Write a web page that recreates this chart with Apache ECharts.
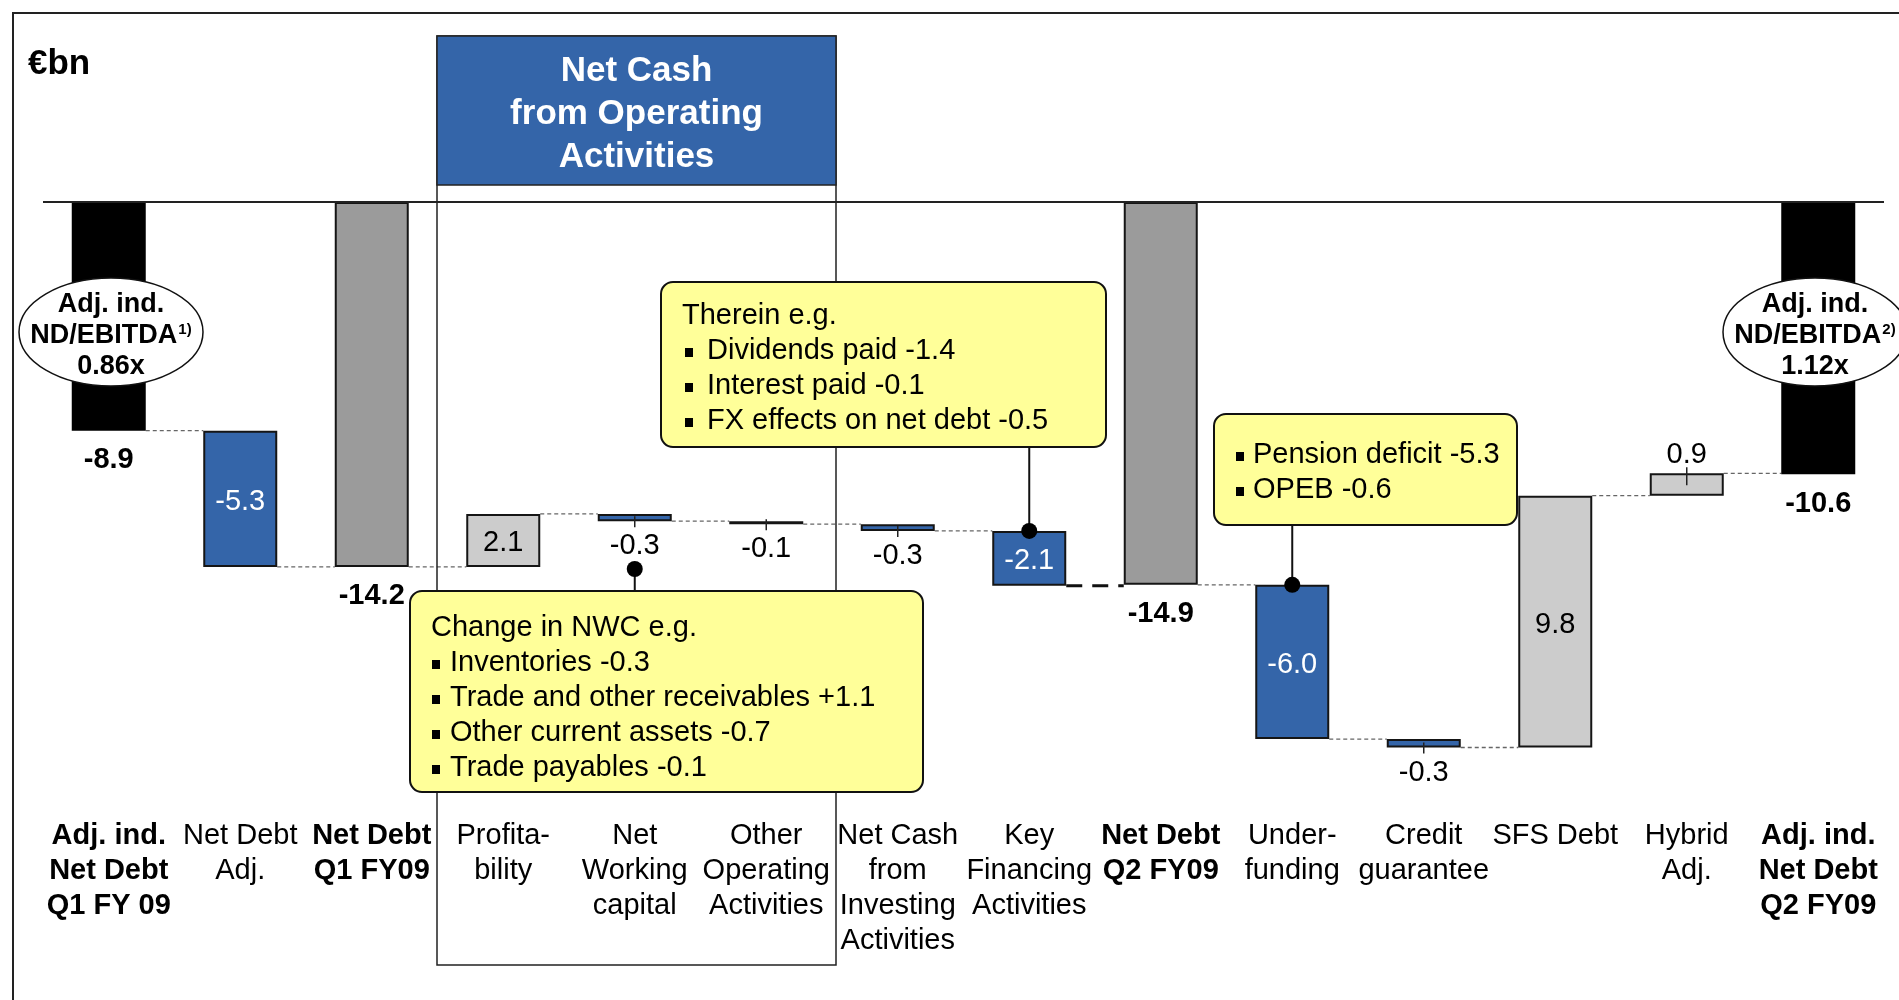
<!DOCTYPE html>
<html>
<head>
<meta charset="utf-8">
<script src="https://cdn.jsdelivr.net/npm/echarts@6/dist/echarts.min.js"></script>
<style>
  html, body { margin: 0; padding: 0; background: #fff; }
  #chart { width: 1899px; height: 1000px; }
</style>
</head>
<body>
<div id="chart"></div>
<script>
// bridge categories, kind of bar and value (EUR bn)
const categories = [
  'Adj. ind.\nNet Debt\nQ1 FY 09', 'Net Debt\nAdj.', 'Net Debt\nQ1 FY09', 'Profita-\nbility',
  'Net\nWorking\ncapital', 'Other\nOperating\nActivities', 'Net Cash\nfrom\nInvesting\nActivities',
  'Key\nFinancing\nActivities', 'Net Debt\nQ2 FY09', 'Under-\nfunding', 'Credit\nguarantee',
  'SFS Debt', 'Hybrid\nAdj.', 'Adj. ind.\nNet Debt\nQ2 FY09'
];
const kinds = ['adj', 'delta', 'total', 'delta', 'delta', 'delta', 'delta', 'delta', 'total', 'delta', 'delta', 'delta', 'delta', 'adj'];
const values = [-8.9, -5.3, -14.2, 2.06, -0.28, -0.12, -0.26, -2.13, -14.9, -6.0, -0.33, 9.8, 0.87, -10.6];

const ratioLeft = ['Adj. ind.', 'ND/EBITDA', '1)', '0.86x'];
const ratioRight = ['Adj. ind.', 'ND/EBITDA', '2)', '1.12x'];
const nwcNotes = ['Change in NWC e.g.', 'Inventories -0.3', 'Trade and other receivables +1.1', 'Other current assets -0.7', 'Trade payables -0.1'];
const financingNotes = ['Therein e.g.', 'Dividends paid -1.4', 'Interest paid -0.1', 'FX effects on net debt -0.5'];
const pensionNotes = ['Pension deficit -5.3', 'OPEB -0.6'];

const FONT = '"Liberation Sans", Arial, Helvetica, sans-serif';
const BLUE = '#3465a9';
const DARK_GRAY = '#9b9b9b';
const LIGHT_GRAY = '#cccccc';
const YELLOW = '#ffff99';
const BAR_W = 74;

// waterfall: transparent base + visible span
let level = 0;
const base = [];
const span = [];
const ends = [];
const tops = [];
values.forEach(function (v, i) {
  if (kinds[i] !== 'delta') {
    base.push(0);
    span.push(v);
    tops.push(0);
    level = v;
  } else {
    const next = level + v;
    const top = Math.max(level, next);
    const bottom = Math.min(level, next);
    base.push(top);
    span.push(bottom - top);
    tops.push(top);
    level = next;
  }
  ends.push(level);
});

function isThin(i) {
  return kinds[i] === 'delta' && Math.abs(values[i]) < 1;
}

const barData = values.map(function (v, i) {
  const k = kinds[i];
  let color;
  let borderWidth = 2;
  if (k === 'adj') {
    color = '#000';
    borderWidth = 0;
  } else if (k === 'total') {
    color = DARK_GRAY;
  } else {
    color = v < 0 ? BLUE : LIGHT_GRAY;
  }
  let label;
  if (k !== 'delta') {
    label = {position: 'bottom', distance: 15, fontWeight: 'bold', color: '#000'};
  } else if (isThin(i)) {
    // thin bar: label drawn outside by the 'small labels' series
    label = {show: false};
  } else {
    label = {position: 'inside', offset: [0, 3], color: v < 0 ? '#fff' : '#000'};
  }
  return {value: span[i], itemStyle: {color: color, borderColor: '#151515', borderWidth: borderWidth}, label: label};
});

// dashed connectors between neighbouring bars
const connectorData = [];
for (let i = 0; i < values.length - 1; i++) {
  connectorData.push([i, ends[i]]);
}

// thin bars: leader tick + value outside
const smallData = [];
values.forEach(function (v, i) {
  if (isThin(i)) {
    const edge = v < 0 ? tops[i] + span[i] : tops[i];
    smallData.push([i, edge, v < 0 ? 1 : -1, v]);
  }
});

const chart = echarts.init(document.getElementById('chart'));

const option = {
  backgroundColor: '#fff',
  animation: false,
  textStyle: {fontFamily: FONT},
  grid: {left: 43, right: 15, top: 202, bottom: 207},
  xAxis: {
    type: 'category',
    data: categories,
    axisLine: {show: false},
    axisTick: {show: false},
    splitLine: {show: false},
    axisLabel: {
      interval: 0,
      margin: 25,
      formatter: function (value, idx) {
        const tag = kinds[idx] === 'delta' ? 'n' : 'b';
        return value.split('\n').map(function (l) { return '{' + tag + '|' + l + '}'; }).join('\n');
      },
      rich: {
        n: {fontSize: 29, lineHeight: 35, color: '#000', fontFamily: FONT, align: 'center'},
        b: {fontSize: 29, lineHeight: 35, color: '#000', fontFamily: FONT, fontWeight: 'bold', align: 'center'}
      }
    }
  },
  yAxis: {
    type: 'value',
    min: -23,
    max: 0,
    show: false,
    splitLine: {show: false}
  },
  series: [
    {
      name: 'base',
      type: 'bar',
      stack: 'wf',
      barWidth: BAR_W,
      silent: true,
      itemStyle: {color: 'transparent'},
      data: base,
      markLine: {
        silent: true,
        symbol: 'none',
        label: {show: false},
        lineStyle: {color: '#222', width: 2, type: 'solid'},
        data: [{yAxis: 0}]
      }
    },
    {
      name: 'Net debt',
      type: 'bar',
      stack: 'wf',
      barWidth: BAR_W,
      label: {
        show: true,
        fontSize: 29,
        fontFamily: FONT,
        formatter: function (p) {
          return values[p.dataIndex].toFixed(1);
        }
      },
      data: barData
    },
    {
      name: 'connectors',
      type: 'custom',
      silent: true,
      encode: {x: 0, y: 1},
      renderItem: function (params, api) {
        const i = api.value(0);
        const lv = api.value(1);
        const a = api.coord([i, lv]);
        const b = api.coord([i + 1, lv]);
        const heavy = i === 7;
        return {
          type: 'line',
          shape: {x1: a[0] + BAR_W / 2, y1: a[1], x2: b[0] - BAR_W / 2, y2: a[1]},
          style: heavy
            ? {stroke: '#111', lineWidth: 3, lineDash: [16, 10]}
            : {stroke: '#666', lineWidth: 1.3, lineDash: [4, 3]}
        };
      },
      data: connectorData,
      z: 1
    },
    {
      name: 'small labels',
      type: 'custom',
      silent: true,
      encode: {x: 0, y: 1},
      renderItem: function (params, api) {
        const p = api.coord([api.value(0), api.value(1)]);
        const dir = api.value(2);
        const v = api.value(3);
        return {
          type: 'group',
          children: [
            {
              type: 'line',
              shape: {x1: p[0], y1: p[1] - dir * (dir > 0 ? 5 : 12), x2: p[0], y2: p[1] + dir * 6},
              style: {stroke: '#222', lineWidth: 1.5}
            },
            {
              type: 'text',
              x: p[0],
              y: p[1] + (dir > 0 ? 25 : -18),
              style: {text: v.toFixed(1), fontSize: 29, fontFamily: FONT, fill: '#000', align: 'center', verticalAlign: 'middle'}
            }
          ]
        };
      },
      data: smallData,
      z: 5
    }
  ]
};

chart.setOption(option);

// annotations
function px(i, v) {
  return chart.convertToPixel({xAxisIndex: 0, yAxisIndex: 0}, [i, v]);
}

function ratioEllipse(cx, cy, t) {
  return [
    {type: 'ellipse', z: 60, shape: {cx: cx, cy: cy, rx: 92, ry: 54}, style: {fill: '#fff', stroke: '#111', lineWidth: 1.5}},
    {
      type: 'text',
      z: 61,
      x: cx,
      y: cy + 4,
      style: {
        text: '{b|' + t[0] + '}\n{b|' + t[1] + '}{s|' + t[2] + '}\n{b|' + t[3] + '}',
        align: 'center',
        verticalAlign: 'middle',
        rich: {
          b: {fontSize: 27, fontWeight: 'bold', lineHeight: 31, fontFamily: FONT, fill: '#000'},
          s: {fontSize: 15, fontWeight: 'bold', lineHeight: 31, fontFamily: FONT, fill: '#000', verticalAlign: 'top', padding: [2, 0, 0, 1]}
        }
      }
    }
  ];
}

function callout(x, y, w, h, lines, textX, bulletX, bulletTextX, firstY, hasHeading) {
  const els = [
    {type: 'rect', z: 50, shape: {x: x, y: y, width: w, height: h, r: 12}, style: {fill: YELLOW, stroke: '#111', lineWidth: 2}}
  ];
  lines.forEach(function (l, k) {
    const ly = firstY + k * 35;
    const bullet = !(hasHeading && k === 0);
    if (bullet) {
      els.push({type: 'rect', z: 51, shape: {x: bulletX - 4, y: ly - 3, width: 8, height: 9}, style: {fill: '#000'}});
    }
    els.push({
      type: 'text',
      z: 51,
      x: bullet ? bulletTextX : textX,
      y: ly,
      style: {text: l, fontSize: 29, fontFamily: FONT, fill: '#000', align: 'left', verticalAlign: 'middle'}
    });
  });
  return els;
}

function dot(x, y, y2) {
  return [
    {type: 'line', z: 55, shape: {x1: x, y1: y, x2: x, y2: y2}, style: {stroke: '#111', lineWidth: 2}},
    {type: 'circle', z: 56, shape: {cx: x, cy: y, r: 8}, style: {fill: '#000'}}
  ];
}

const nwcX = px(4, 0)[0];
const finTop = px(7, tops[7]);
const fundTop = px(9, tops[9]);

const graphics = [
  {type: 'rect', z: 0, silent: true, shape: {x: 13, y: 13, width: 1900, height: 1000}, style: {fill: 'none', stroke: '#222', lineWidth: 2}},
  {type: 'text', z: 10, x: 28, y: 64, style: {text: '€bn', fontSize: 35, fontWeight: 'bold', fontFamily: FONT, fill: '#000', verticalAlign: 'middle'}},
  {type: 'rect', z: 1, shape: {x: 437, y: 36, width: 399, height: 929}, style: {fill: 'none', stroke: '#222', lineWidth: 1.5}},
  {type: 'rect', z: 2, shape: {x: 437, y: 36, width: 399, height: 149}, style: {fill: BLUE, stroke: '#222', lineWidth: 1.5}},
  {
    type: 'text', z: 3, x: 636.5, y: 114,
    style: {text: 'Net Cash\nfrom Operating\nActivities', fontSize: 35, fontWeight: 'bold', lineHeight: 43, fontFamily: FONT, fill: '#fff', align: 'center', verticalAlign: 'middle'}
  }
].concat(
  ratioEllipse(111, 332, ratioLeft),
  ratioEllipse(1815, 332, ratioRight),
  callout(661, 282, 445, 165, financingNotes, 682, 689, 707, 316, true),
  callout(1214, 414, 303, 111, pensionNotes, 1253, 1240, 1253, 455, false),
  callout(410, 591, 513, 201, nwcNotes, 431, 436, 450, 628, true),
  dot(nwcX, 569, 592),
  dot(finTop[0], finTop[1], 447),
  dot(fundTop[0], fundTop[1], 525)
);

chart.setOption({graphic: graphics});
</script>
</body>
</html>
